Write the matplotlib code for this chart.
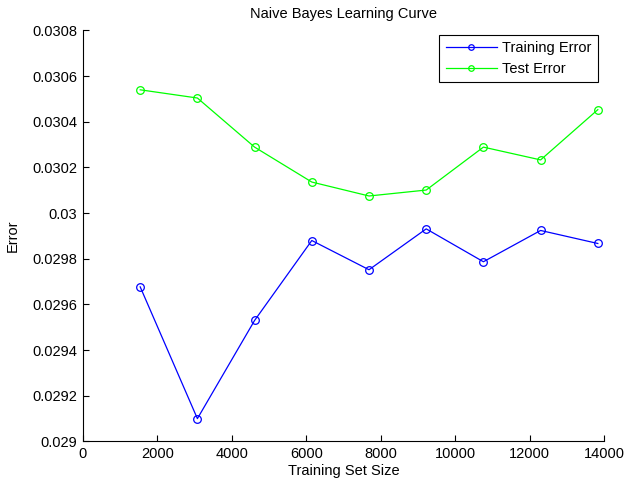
import numpy as np
import matplotlib.pyplot as plt

# Training set sizes and the resulting error rates
train_sizes = [1537, 3074, 4611, 6148, 7685, 9222, 10759, 12296, 13833]
training_error = [0.029677, 0.029100, 0.029530, 0.029880, 0.029752,
                  0.029931, 0.029787, 0.029924, 0.029867]
test_error = [0.030540, 0.030504, 0.030289, 0.030136, 0.030075,
              0.030101, 0.030289, 0.030233, 0.030453]

plt.rcParams['font.family'] = ['Liberation Sans', 'DejaVu Sans']
plt.rcParams['font.size'] = 10.5

fig = plt.figure(figsize=(6.24, 4.83), dpi=100)
ax = fig.add_axes([0.133, 0.086, 0.835, 0.851])

ax.plot(train_sizes, training_error, '-o', color='#0000ff', lw=0.9,
        markersize=5.5, markerfacecolor='none', markeredgewidth=0.9,
        label='Training Error')
ax.plot(train_sizes, test_error, '-o', color='#00ff00', lw=0.9,
        markersize=5.5, markerfacecolor='none', markeredgewidth=0.9,
        label='Test Error')

ax.set_xlim(0, 14000)
ax.set_ylim(0.029, 0.0308)
ax.set_xticks(np.arange(0, 14001, 2000))
ax.set_yticks(np.arange(0.029, 0.03081, 0.0002))
ax.set_yticklabels(['0.029', '0.0292', '0.0294', '0.0296', '0.0298', '0.03',
                    '0.0302', '0.0304', '0.0306', '0.0308'])

ax.spines['top'].set_visible(False)
ax.spines['right'].set_visible(False)
ax.tick_params(direction='in', length=4, width=0.8, top=False, right=False,
               pad=4)

ax.set_title('Naive Bayes Learning Curve', fontsize=10.5, pad=9)
ax.set_xlabel('Training Set Size', fontsize=10.5, labelpad=2)
ax.set_ylabel('Error', fontsize=10.5, labelpad=9)

leg = ax.legend(loc='upper right', bbox_to_anchor=(0.988, 0.99),
                fancybox=False, framealpha=1, edgecolor='black',
                fontsize=10.5, handlelength=3.5, borderpad=0.45,
                labelspacing=0.45, handletextpad=0.35, borderaxespad=0)
leg.get_frame().set_linewidth(0.8)
for h in leg.legend_handles:
    h.set_markersize(4)

fig.savefig('out.png', dpi=100)
